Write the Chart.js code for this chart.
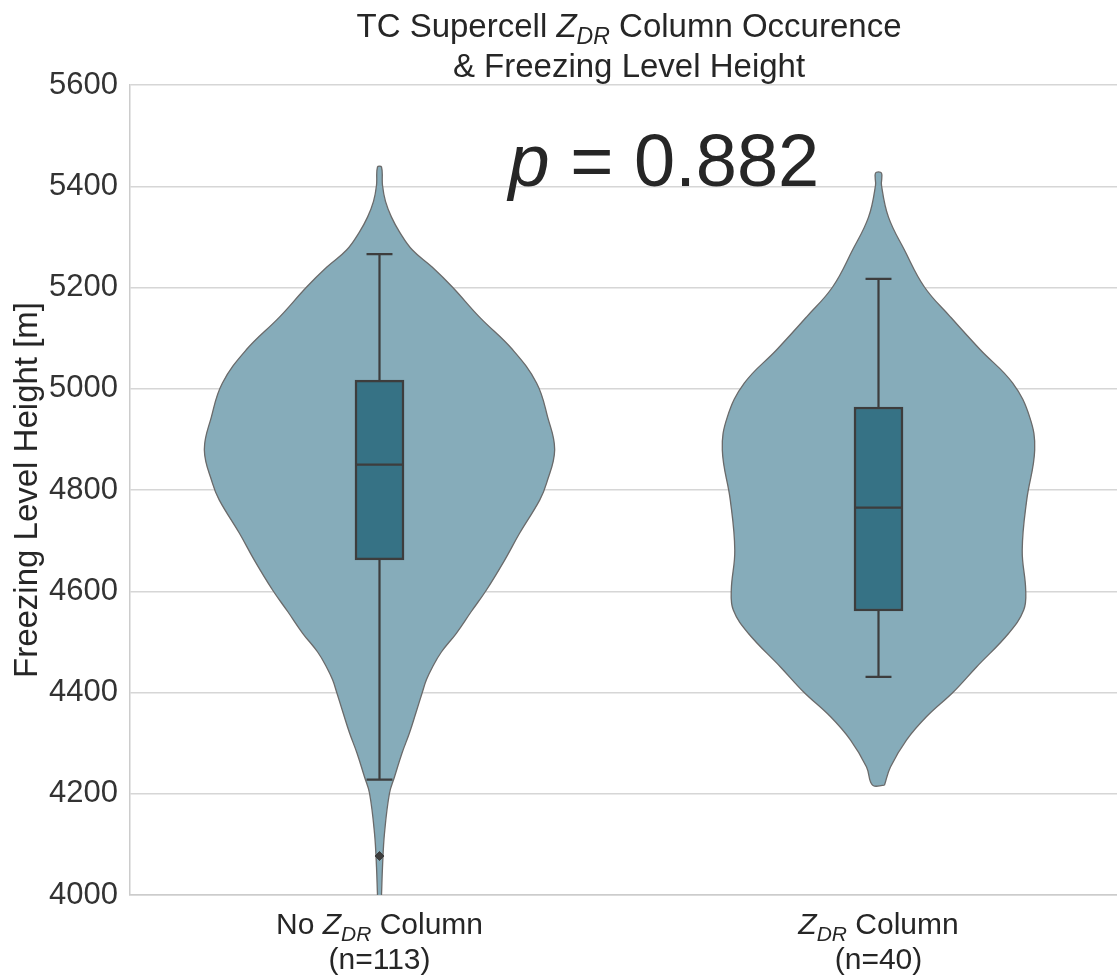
<!DOCTYPE html>
<html>
<head>
<meta charset="utf-8">
<script src="https://cdn.jsdelivr.net/npm/chart.js@4.4.1/dist/chart.umd.min.js"></script>
<style>
  html, body { margin: 0; padding: 0; overflow: hidden; background: #fff; }
  #wrap { width: 1140px; height: 978px; }
</style>
</head>
<body>
<div id="wrap"><canvas id="violin" width="1140" height="978"></canvas></div>
<script>
// groups and sample sizes
const groupPrefix = ["No ", ""];
const groupCounts = [113, 40];
const pValue = "0.882";

// y axis ticks [m]
const yTicks = [4000, 4200, 4400, 4600, 4800, 5000, 5200, 5400, 5600];

// violin outline: height [m] and half-width of the density (x-axis units)
const noColHeights = [3960, 4000, 4055, 4122, 4201, 4233, 4280, 4320, 4360, 4401, 4425, 4450, 4480, 4517, 4560, 4602, 4660, 4715, 4780, 4814, 4879, 4944, 5011, 5077, 5142, 5201, 5240, 5274, 5310, 5339, 5370, 5402, 5438];
const noColWidths  = [0.002, 0.004, 0.006, 0.010, 0.020, 0.030, 0.045, 0.060, 0.073, 0.086, 0.094, 0.106, 0.124, 0.154, 0.184, 0.214, 0.250, 0.281, 0.321, 0.335, 0.351, 0.337, 0.315, 0.267, 0.200, 0.146, 0.106, 0.066, 0.040, 0.024, 0.012, 0.006, 0.004];
const colHeights = [4217, 4253, 4306, 4352, 4401, 4450, 4517, 4563, 4602, 4681, 4780, 4879, 4944, 5011, 5077, 5142, 5201, 5274, 5339, 5402, 5426];
const colWidths  = [0.012, 0.024, 0.056, 0.096, 0.150, 0.196, 0.261, 0.291, 0.295, 0.288, 0.297, 0.313, 0.303, 0.269, 0.204, 0.144, 0.092, 0.052, 0.020, 0.006, 0.006];

// box stats: low whisker, q1, median, q3, high whisker
const noColBox = [4228, 4662, 4850, 5017, 5266];
const colBox   = [4431, 4561, 4765, 4964, 5217];
const noColOutliers = [4077];

const FONT = '"Liberation Sans", Arial, sans-serif';
const TEXT = '#262626';
const VIOLIN_FILL = '#86acba';
const BOX_FILL = '#367285';
const EDGE = '#3d3d3d';

function outline(center, heights, widths) {
  const right = heights.map((h, i) => ({ x: center + widths[i], y: h }));
  const left = heights.map((h, i) => ({ x: center - widths[i], y: h })).reverse();
  return right.concat(left, [right[0]]);
}

// text with italic / subscript runs (Z_DR)
function zdr(before, after) {
  return [{ t: before }, { t: 'Z', it: true }, { t: 'DR', it: true, sub: true }, { t: after }];
}
function runFont(r, size) {
  return (r.it ? 'italic ' : '') + (r.sub ? size * 0.7 : size) + 'px ' + FONT;
}
function drawRich(ctx, runs, cx, baseline, size) {
  let total = 0;
  runs.forEach(r => { ctx.font = runFont(r, size); total += ctx.measureText(r.t).width; });
  let x = cx - total / 2;
  ctx.textAlign = 'left';
  ctx.textBaseline = 'alphabetic';
  runs.forEach(r => {
    ctx.font = runFont(r, size);
    ctx.fillText(r.t, x, baseline + (r.sub ? size * 0.22 : 0));
    x += ctx.measureText(r.t).width;
  });
}

const boxes = [noColBox, colBox];

const boxPlot = {
  id: 'boxPlot',
  afterDatasetsDraw(chart) {
    const { ctx, scales: { x, y } } = chart;
    ctx.save();
    ctx.strokeStyle = EDGE;
    ctx.lineWidth = 2.2;
    boxes.forEach((b, i) => {
      const cx = x.getPixelForValue(i);
      const capL = x.getPixelForValue(i - 0.026), capR = x.getPixelForValue(i + 0.026);
      const boxL = x.getPixelForValue(i - 0.049), boxR = x.getPixelForValue(i + 0.049);
      ctx.beginPath();
      ctx.moveTo(cx, y.getPixelForValue(b[3])); ctx.lineTo(cx, y.getPixelForValue(b[4]));
      ctx.moveTo(cx, y.getPixelForValue(b[1])); ctx.lineTo(cx, y.getPixelForValue(b[0]));
      ctx.moveTo(capL, y.getPixelForValue(b[4])); ctx.lineTo(capR, y.getPixelForValue(b[4]));
      ctx.moveTo(capL, y.getPixelForValue(b[0])); ctx.lineTo(capR, y.getPixelForValue(b[0]));
      ctx.moveTo(boxL, y.getPixelForValue(b[2])); ctx.lineTo(boxR, y.getPixelForValue(b[2]));
      ctx.stroke();
    });
    ctx.restore();
  }
};

const labels = {
  id: 'labels',
  afterDraw(chart) {
    const { ctx, chartArea: a, scales: { x } } = chart;
    const mid = (a.left + a.right) / 2;
    ctx.save();
    ctx.fillStyle = TEXT;
    drawRich(ctx, zdr('TC Supercell ', ' Column Occurence'), mid, 37, 33);
    drawRich(ctx, [{ t: '& Freezing Level Height' }], mid, 77, 33);
    drawRich(ctx, [{ t: 'p', it: true }, { t: ' = ' + pValue }], x.getPixelForValue(0.57), 186, 74);
    groupPrefix.forEach((pre, i) => {
      const cx = x.getPixelForValue(i);
      drawRich(ctx, zdr(pre, ' Column'), cx, 934, 30);
      drawRich(ctx, [{ t: '(n=' + groupCounts[i] + ')' }], cx, 969, 30);
    });
    ctx.restore();
  }
};

new Chart(document.getElementById('violin'), {
  type: 'scatter',
  data: {
    datasets: [
      {
        type: 'bar',
        data: [{ x: 0, y: [noColBox[1], noColBox[3]] }, { x: 1, y: [colBox[1], colBox[3]] }],
        backgroundColor: BOX_FILL,
        borderColor: EDGE,
        borderWidth: 2.5,
        borderSkipped: false,
        barThickness: 49,
        order: 0
      },
      {
        data: noColOutliers.map(v => ({ x: 0, y: v })),
        pointStyle: 'rectRot',
        pointRadius: 4.5,
        backgroundColor: EDGE,
        borderColor: EDGE,
        order: 0
      },
      {
        data: outline(0, noColHeights, noColWidths),
        showLine: true,
        fill: 'shape',
        tension: 0.4,
        backgroundColor: VIOLIN_FILL,
        borderColor: '#6a6a6a',
        borderWidth: 1.3,
        pointRadius: 0,
        order: 2
      },
      {
        data: outline(1, colHeights, colWidths),
        showLine: true,
        fill: 'shape',
        tension: 0.4,
        backgroundColor: VIOLIN_FILL,
        borderColor: '#6a6a6a',
        borderWidth: 1.3,
        pointRadius: 0,
        order: 2
      }
    ]
  },
  options: {
    responsive: false,
    animation: false,
    layout: { padding: { top: 85, right: 12, left: 0, bottom: 0 } },
    plugins: { legend: { display: false }, tooltip: { enabled: false } },
    scales: {
      x: {
        type: 'linear',
        min: -0.5,
        max: 1.5,
        offset: false,
        grid: { display: false },
        ticks: { display: false },
        border: { color: '#cccccc', width: 1.5 },
        afterFit(s) { s.height = 83; }
      },
      y: {
        min: 4000,
        max: 5600,
        afterBuildTicks(s) { s.ticks = yTicks.map(v => ({ value: v })); },
        ticks: {
          padding: 12,
          color: '#333333',
          font: { family: FONT, size: 31 },
          callback: v => String(v)
        },
        grid: { color: '#d6d6d6', lineWidth: 1.5, drawTicks: false },
        border: { color: '#cccccc', width: 1.5 },
        title: {
          display: true,
          text: 'Freezing Level Height [m]',
          color: TEXT,
          font: { family: FONT, size: 33 },
          padding: { top: 8, bottom: 0 }
        },
        afterFit(s) { s.width = 130; }
      }
    }
  },
  plugins: [boxPlot, labels]
});
</script>
</body>
</html>
